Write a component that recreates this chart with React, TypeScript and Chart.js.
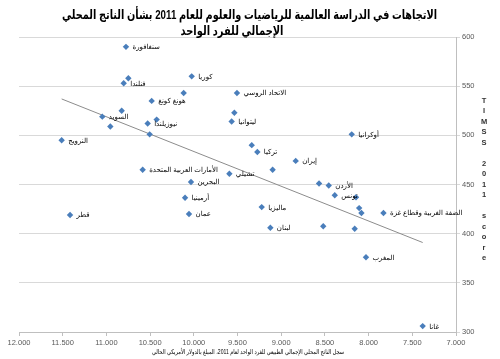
import { useEffect, useRef } from 'react';
import { Chart, registerables } from 'chart.js';
Chart.register(...registerables);

const FONT = "Arial, 'Liberation Sans', 'DejaVu Sans', sans-serif";

const titleLines = [
  'الاتجاهات في الدراسة العالمية للرياضيات والعلوم للعام 2011 بشأن الناتج المحلي',
  'الإجمالي للفرد الواحد',
];
const xAxisTitle = 'سجل الناتج المحلي الإجمالي الطبيعي للفرد الواحد لعام 2011، المبلغ بالدولار الأمريكي الحالي';
const yAxisTitleChars = ['T', 'I', 'M', 'S', 'S', '', '2', '0', '1', '1', '', 's', 'c', 'o', 'r', 'e'];

const countryLabels = [
  'سنغافورة', '', 'فنلندا', 'كوريا', '', 'هونغ كونغ', 'الاتحاد الروسي', '', 'ليتوانيا', '',
  'السويد', '', 'نيوزيلندا', '', '', 'النرويج', 'الأمارات العربية المتحدة', 'أوكرانيا', '', 'تركيا',
  'إيران', '', 'تشيلي', '', 'الأردن', 'تونس', '', '', '', 'الضفة الغربية وقطاع غزة',
  'ماليزيا', 'لبنان', '', '', 'المغرب', 'البحرين', 'أرمينيا', 'عمان', 'قطر', 'غانا',
];
const lnGdp = [
  10.776, 10.749, 10.802, 10.024, 10.116, 10.482, 9.506, 9.536, 9.567, 10.825,
  11.047, 10.955, 10.528, 10.425, 10.505, 11.512, 10.585, 8.193, 9.337, 9.273,
  8.834, 9.098, 9.593, 8.567, 8.456, 8.387, 8.144, 8.108, 8.082, 7.830,
  9.223, 9.124, 8.519, 8.159, 8.030, 10.032, 10.100, 10.055, 11.416, 7.381,
];
const timssScore = [
  590, 558, 553, 560, 543, 535, 543, 523, 514, 525,
  519, 509, 512, 516, 501, 495, 465, 501, 490, 483,
  474, 465, 461, 451, 449, 439, 437, 426, 421, 421,
  427, 406, 407.5, 405, 376, 452.5, 436.6, 420, 419, 306,
];
const trendX = [11.512, 7.381];
const trendY = [537, 391];

const xTicksMin = 7;
const xTicksMax = 12;
const xStep = 0.5;
const yMin = 300;
const yMax = 600;
const yStep = 50;

export default function App() {
  const ref = useRef<HTMLCanvasElement>(null);
  useEffect(() => {
    document.body.style.margin = '0';
    const points = lnGdp.map((x, i) => ({ x, y: timssScore[i] }));
    const trend = trendX.map((x, i) => ({ x, y: trendY[i] }));

    const textPlugin = {
      id: 'texts',
      afterDatasetsDraw(chart: any) {
        const ctx = chart.ctx;
        const meta = chart.getDatasetMeta(0);
        ctx.save();
        ctx.fillStyle = '#000';
        ctx.font = `7px ${FONT}`;
        ctx.textBaseline = 'middle';
        ctx.textAlign = 'left';
        (ctx as any).direction = 'rtl';
        meta.data.forEach((el: any, i: number) => {
          const t = countryLabels[i];
          if (!t) return;
          ctx.fillText(t, el.x + 6.5, el.y + 0.5);
        });
        ctx.restore();
      },
      afterDraw(chart: any) {
        const ctx = chart.ctx;
        ctx.save();
        (ctx as any).direction = 'rtl';
        ctx.textAlign = 'center';
        ctx.textBaseline = 'middle';
        ctx.fillStyle = '#000';
        ctx.font = `bold 13px ${FONT}`;
        ctx.fillText(titleLines[0], 249.5, 15, 375);
        ctx.fillText(titleLines[1], 232, 31, 103);
        ctx.font = `6.5px ${FONT}`;
        ctx.fillStyle = '#000';
        ctx.fillText(xAxisTitle, 248, 352, 192);
        (ctx as any).direction = 'ltr';
        ctx.font = `bold 7.5px ${FONT}`;
        ctx.fillStyle = '#333';
        yAxisTitleChars.forEach((c, i) => {
          if (c) ctx.fillText(c, 484, 100.7 + i * 10.5);
        });
        ctx.restore();
      },
    };

    const chart = new Chart(ref.current!, {
      type: 'scatter',
      data: {
        datasets: [
          {
            data: points,
            pointStyle: 'rectRot',
            pointRadius: 3.2,
            pointHoverRadius: 3.2,
            backgroundColor: '#4a7ebb',
            borderColor: '#4a7ebb',
            borderWidth: 0,
          },
          {
            data: trend,
            showLine: true,
            borderColor: '#8c8c8c',
            borderWidth: 1,
            pointRadius: 0,
            fill: false,
          } as any,
        ],
      },
      options: {
        animation: false,
        responsive: true,
        maintainAspectRatio: false,
        layout: { padding: { top: 37, left: 19, right: 0, bottom: 0 } },
        plugins: { legend: { display: false }, tooltip: { enabled: false }, title: { display: false } },
        scales: {
          x: {
            type: 'linear',
            reverse: true,
            min: xTicksMin,
            max: xTicksMax,
            ticks: {
              stepSize: xStep,
              callback: (v: any) => Number(v).toFixed(3),
              font: { size: 7.5, family: FONT },
              color: '#595959',
              padding: 2,
              maxRotation: 0,
              autoSkip: false,
            },
            grid: { drawOnChartArea: false, tickLength: 4, color: '#bfbfbf' },
            border: { color: '#bfbfbf' },
            afterFit: (s: any) => { s.height = 27; },
          },
          y: {
            type: 'linear',
            position: 'right',
            min: yMin,
            max: yMax,
            ticks: {
              stepSize: yStep,
              font: { size: 7.5, family: FONT },
              color: '#595959',
              padding: 2,
            },
            grid: { color: '#d9d9d9', tickLength: 4 },
            border: { color: '#bfbfbf' },
            afterFit: (s: any) => { s.width = 44; },
          },
        },
      },
      plugins: [textPlugin],
    });
    return () => chart.destroy();
  }, []);
  return (
    <div style={{ width: 500, height: 359, position: 'relative' }}>
      <canvas ref={ref} />
    </div>
  );
}
